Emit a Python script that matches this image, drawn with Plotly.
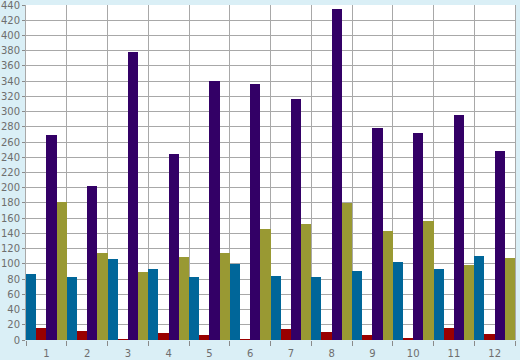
import plotly.graph_objects as go

categories = [1, 2, 3, 4, 5, 6, 7, 8, 9, 10, 11, 12]
series_blue = [87, 83, 106, 93, 83, 100, 84, 83, 91, 102, 93, 110]
series_red = [16, 12, 1, 9, 7, 1, 15, 10, 7, 3, 16, 8]
series_purple = [269, 202, 378, 244, 340, 336, 317, 435, 278, 272, 295, 248]
series_olive = [181, 114, 89, 109, 114, 146, 153, 180, 143, 156, 98, 108]
y_ticks = list(range(0, 441, 20))

colors = ["#006699", "#990000", "#330066", "#999933"]
names = ["Series 1", "Series 2", "Series 3", "Series 4"]
data = [series_blue, series_red, series_purple, series_olive]

fig = go.Figure()
for name, vals, col in zip(names, data, colors):
    fig.add_trace(go.Bar(x=categories, y=vals, name=name,
                         marker=dict(color=col, line=dict(width=0))))

fig.update_layout(
    width=520, height=360,
    margin=dict(l=26, r=5, t=5, b=20, pad=0),
    paper_bgcolor="#DAEFF6",
    plot_bgcolor="#FFFFFF",
    barmode="group", bargap=0, bargroupgap=0,
    showlegend=False,
    font=dict(family="DejaVu Sans", size=10, color="#6E6E6E"),
)
fig.update_xaxes(
    range=[0.5, 12.5], automargin=False,
    tickmode="array", tickvals=categories, ticktext=[str(c) for c in categories],
    showgrid=False, ticks="", zeroline=False,
    showline=False,
    minor=dict(tick0=0.5, dtick=1, showgrid=True, gridcolor="#A8A8A8", gridwidth=1,
               ticks="outside", ticklen=5, tickcolor="#8A8A8A", tickwidth=1),
    ticklabelstandoff=6,
)
fig.update_yaxes(
    range=[0, 440.1], automargin=False,
    tickmode="array", tickvals=y_ticks,
    showgrid=True, gridcolor="#A8A8A8", gridwidth=1,
    ticks="outside", ticklen=3, tickcolor="#8A8A8A",
    ticklabeloverflow="allow",
    zeroline=False, showline=True, linecolor="#A8A8A8", mirror=True,
)
fig.write_html("out.html", config={"displayModeBar": False},
               post_script="document.body.style.margin='0';document.body.style.background='#DAEFF6';")
